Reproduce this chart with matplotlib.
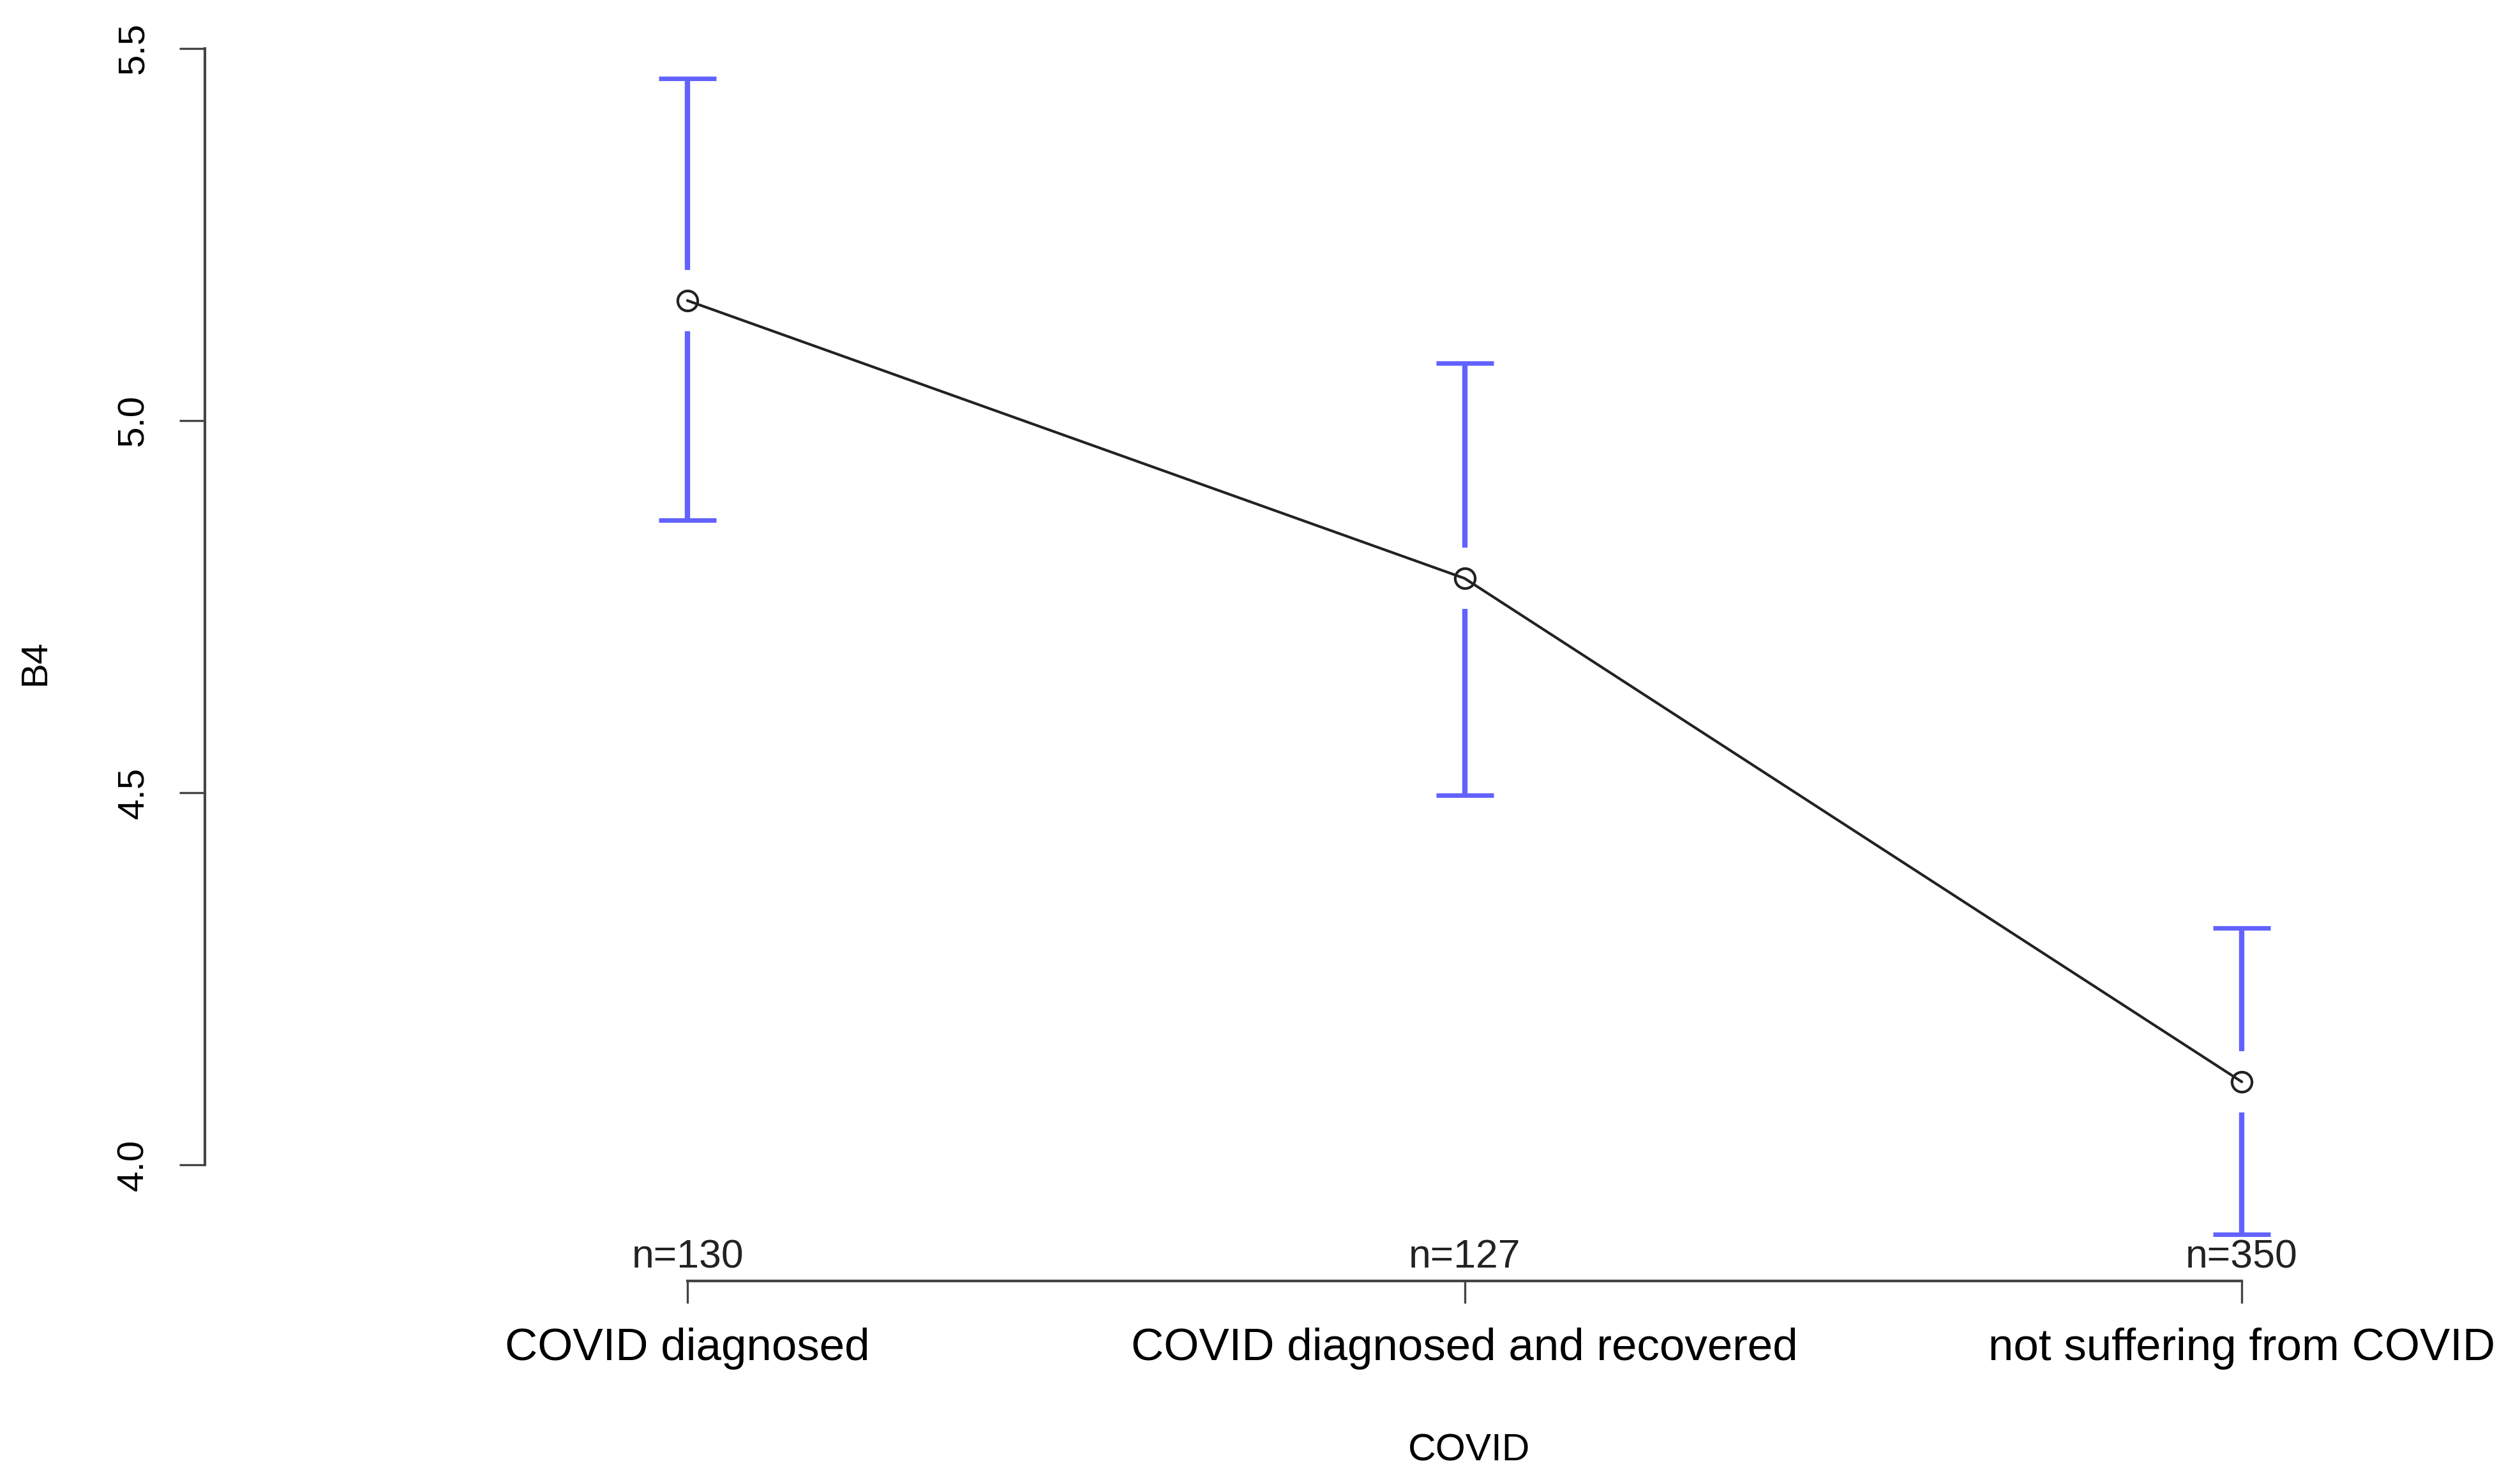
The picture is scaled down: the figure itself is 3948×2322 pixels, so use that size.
import numpy as np
import matplotlib
matplotlib.use("Agg")
import matplotlib.pyplot as plt

plt.rcParams['font.family'] = ['Liberation Sans', 'DejaVu Sans']

# data (group means of B4 with 95% CI)
groups = ["COVID diagnosed", "COVID diagnosed and recovered", "not suffering from COVID"]
counts = [130, 127, 350]
means = [5.161, 4.788, 4.112]
upper = [5.459, 5.077, 4.318]
lower = [4.866, 4.497, 3.907]
y_ticks = [4.0, 4.5, 5.0, 5.5]

x = np.arange(1, len(groups) + 1)
means = np.array(means)
upper = np.array(upper)
lower = np.array(lower)

fig = plt.figure(figsize=(13.16, 7.74), dpi=300)
ax = fig.add_axes([0.0814, 0.1355, 0.9148, 0.8445])
ax.set_xlim(0.379, 3.346)
ax.set_ylim(3.844, 5.525)

# error bars with a gap round the point, like plotCI
gap = 0.041
bar_col = '#6262ff'
ax.vlines(x, means + gap, upper, color=bar_col, lw=2.0, zorder=2)
ax.vlines(x, lower, means - gap, color=bar_col, lw=2.0, zorder=2)
ax.hlines(upper, x - 0.037, x + 0.037, color=bar_col, lw=1.7, zorder=2)
ax.hlines(lower, x - 0.037, x + 0.037, color=bar_col, lw=1.7, zorder=2)

ax.plot(x, means, color='#222222', lw=1.0, marker='o', markersize=7.5,
        markerfacecolor='none', markeredgecolor='#222222', markeredgewidth=1.0, zorder=3)

for xi, n in zip(x, counts):
    ax.annotate(f"n={n}", xy=(xi, 0), xycoords=('data', 'axes fraction'),
                xytext=(0, 2), textcoords='offset points',
                ha='center', va='bottom', fontsize=15, color='#222222')

for side in ['top', 'right']:
    ax.spines[side].set_visible(False)
ax.spines['left'].set_bounds(y_ticks[0], y_ticks[-1])
ax.spines['bottom'].set_bounds(x[0], x[-1])
for side in ['left', 'bottom']:
    ax.spines[side].set_linewidth(1.0)
    ax.spines[side].set_color('#444444')

ax.set_xticks(x)
ax.set_xticklabels(groups, fontsize=17)
ax.set_yticks(y_ticks)
ax.set_yticklabels([f"{v:.1f}" for v in y_ticks], fontsize=14, rotation=90, va='center')
ax.tick_params(axis='x', length=8.5, width=0.8, color='#444444', pad=9)
ax.tick_params(axis='y', length=9.5, width=0.8, color='#444444', pad=11)

fig.text(0.583, 0.021, "COVID", ha='center', va='center', fontsize=14.5)
fig.text(0.0141, 0.553, "B4", ha='center', va='center', fontsize=14, rotation=90)

fig.savefig("out.png", dpi=300)
